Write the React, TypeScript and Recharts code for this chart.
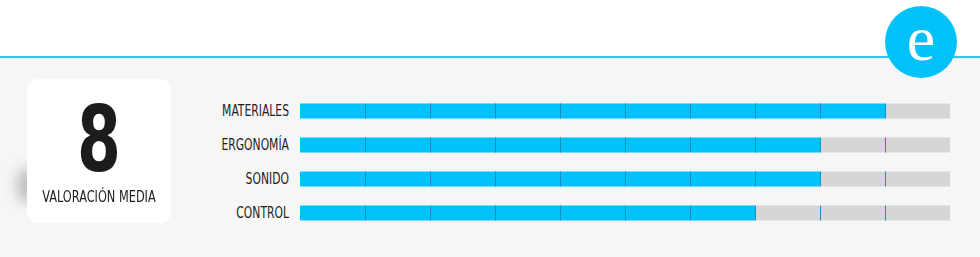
// Product rating card - score badge plus one segmented bar per aspect

import React from 'react';
import { Bar, BarChart, XAxis, YAxis } from 'recharts';

const aspects = ['MATERIALES', 'ERGONOMÍA', 'SONIDO', 'CONTROL'];
const scores = [9, 8, 8, 7];
const maxScore = 10;
const averageScore = '8';
const averageLabel = 'VALORACIÓN MEDIA';

const BLUE = '#00c2f8';
const GREY = '#d6d6d6';
const DIVIDER = '#1a8fbd';
const FONT = '"DejaVu Sans Condensed", "DejaVu Sans", sans-serif';

const data = aspects.map((name, i) => ({
  name,
  score: scores[i],
  rest: maxScore - scores[i],
}));

// Draw the bar piece and a thin divider at every whole unit inside it
function segmented(fill: string, key: 'score' | 'rest', withStart: boolean) {
  return (props: any) => {
    const { x, y, width, height, payload } = props;
    const units = payload[key];
    if (!units || width <= 0) return <g />;
    const unit = width / units;
    const lines = [];
    for (let k = withStart ? 0 : 1; k < units; k++) {
      const lx = Math.round(x + unit * k) + 0.5;
      lines.push(
        <line key={k} x1={lx} x2={lx} y1={y} y2={y + height} stroke={DIVIDER} strokeWidth={1} />
      );
    }
    return (
      <g>
        <rect x={x} y={y} width={width} height={height} fill={fill} />
        {lines}
      </g>
    );
  };
}

// Condensed-looking label: squeeze the text horizontally around its right edge
function AspectTick(props: any) {
  const { x, y, payload } = props;
  return (
    <text
      transform={`translate(${x},${y}) scale(0.8,1)`}
      textAnchor="end"
      dominantBaseline="central"
      fontSize={15}
      fill="#1e1e1e"
      fontFamily={FONT}
    >
      {payload.value}
    </text>
  );
}

export default function App() {
  return (
    <div
      style={{
        position: 'absolute',
        left: 0,
        top: 0,
        width: 980,
        height: 257,
        background: '#f6f6f6',
        overflow: 'hidden',
        fontFamily: FONT,
      }}
    >
      {/* header strip */}
      <div
        style={{ position: 'absolute', left: 0, top: 0, width: 980, height: 57, background: '#fff' }}
      />
      <div
        style={{ position: 'absolute', left: 0, top: 56, width: 980, height: 2, background: '#3cc0e6' }}
      />
      <div
        style={{ position: 'absolute', left: 0, top: 58, width: 980, height: 1, background: '#e2f4fa' }}
      />
      <svg width={90} height={84} style={{ position: 'absolute', left: 876, top: 0 }}>
        <circle cx={45} cy={42} r={36} fill={BLUE} />
        <text
          x={45}
          y={60}
          textAnchor="middle"
          fontSize={64}
          fontWeight={300}
          fill="#fff"
          fontFamily='"Liberation Serif", "DejaVu Serif", serif'
        >
          e
        </text>
      </svg>

      {/* score card */}
      <div
        style={{
          position: 'absolute',
          left: 18,
          top: 168,
          width: 20,
          height: 34,
          background: '#b9b9b9',
          filter: 'blur(7px)',
          borderRadius: 10,
        }}
      />
      <div
        style={{
          position: 'absolute',
          left: 27,
          top: 79,
          width: 144,
          height: 144,
          background: '#ffffff',
          borderRadius: 11,
          textAlign: 'center',
          color: '#1c1c1c',
        }}
      >
        <div
          style={{
            marginTop: 14,
            fontSize: 90,
            fontWeight: 700,
            lineHeight: '94px',
            transform: 'scaleX(0.78)',
          }}
        >
          {averageScore}
        </div>
        <div style={{ marginTop: 1, fontSize: 15, lineHeight: '18px', transform: 'scaleX(0.84)' }}>
          {averageLabel}
        </div>
      </div>

      <div style={{ position: 'absolute', left: 190, top: 93 }}>
        <BarChart
          width={770}
          height={137}
          data={data}
          layout="vertical"
          margin={{ top: 0.5, right: 10, left: 0, bottom: 0.5 }}
          barSize={15}
        >
          <XAxis type="number" domain={[0, maxScore]} hide />
          <YAxis
            type="category"
            dataKey="name"
            width={110}
            axisLine={false}
            tickLine={false}
            tickSize={0}
            tickMargin={11}
            tick={<AspectTick />}
          />
          <Bar
            dataKey="score"
            stackId="r"
            fill={BLUE}
            isAnimationActive={false}
            shape={segmented(BLUE, 'score', false)}
          />
          <Bar
            dataKey="rest"
            stackId="r"
            fill={GREY}
            isAnimationActive={false}
            shape={segmented(GREY, 'rest', true)}
          />
        </BarChart>
      </div>
    </div>
  );
}
